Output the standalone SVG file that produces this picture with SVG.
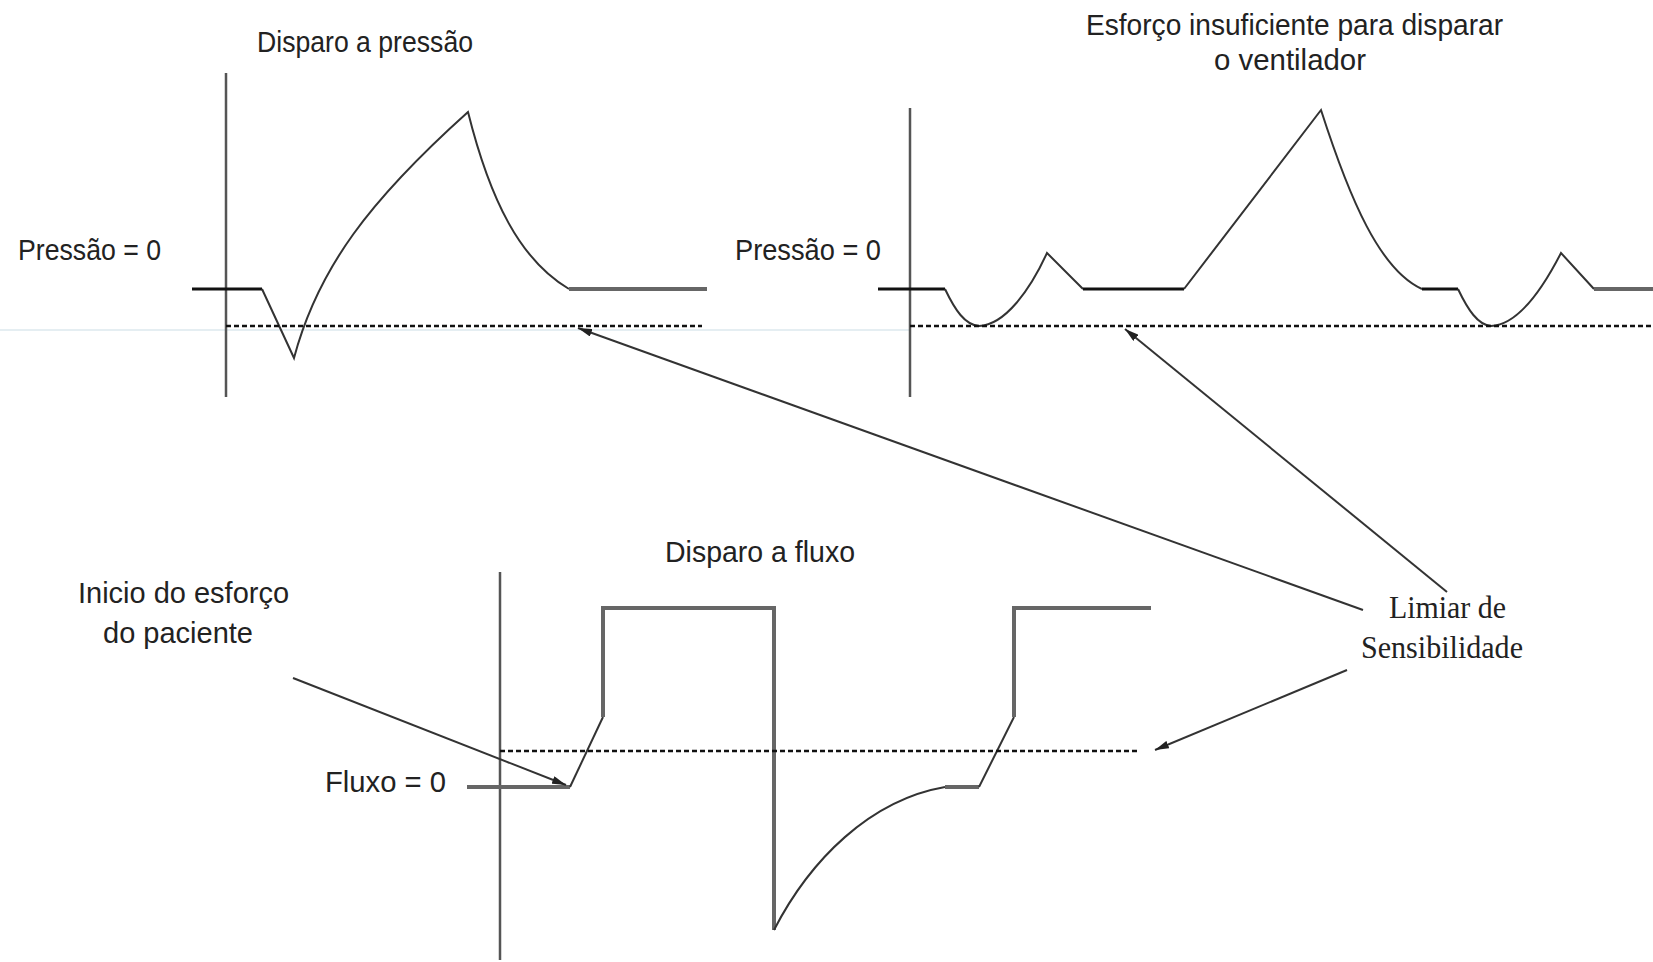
<svg xmlns="http://www.w3.org/2000/svg" width="1653" height="962" viewBox="0 0 1653 962">
<style>
.lbl{font-family:"Liberation Sans","DejaVu Sans",sans-serif;font-size:30px;fill:#222}
.ser{font-family:"Liberation Serif","DejaVu Serif",serif;font-size:31px;fill:#222}
.axis{stroke:#555;stroke-width:2.5;fill:none}
.wave{stroke:#333;stroke-width:2;fill:none;stroke-linejoin:miter}
.grey{stroke:#666;stroke-width:4;fill:none}
.blk{stroke:#111;stroke-width:3;fill:none}
.dash{stroke:#111;stroke-width:2.5;fill:none;stroke-dasharray:5 3}
.conn{stroke:#333;stroke-width:2;fill:none;marker-end:url(#ah)}
</style>
<defs>
<marker id="ah" viewBox="0 0 14 8" refX="14" refY="4" markerWidth="14" markerHeight="8" markerUnits="userSpaceOnUse" orient="auto">
<path d="M0,0 L14,4 L0,8 Z" fill="#222"/>
</marker>
</defs>
<rect width="1653" height="962" fill="#fff"/>
<line x1="0" y1="330" x2="910" y2="330" stroke="#dde9ee" stroke-width="1.5"/>

<g id="panel-pressure-trigger">
<text class="lbl" x="257" y="52" textLength="216" lengthAdjust="spacingAndGlyphs">Disparo a pressão</text>
<text class="lbl" x="18" y="260" textLength="143" lengthAdjust="spacingAndGlyphs">Pressão = 0</text>
<line class="axis" x1="226" y1="73" x2="226" y2="397"/>
<line class="blk" x1="192" y1="289" x2="262" y2="289"/>
<path class="wave" d="M262,289 L294,358 C318,268 370,200 468,112 C490,200 520,260 569,289"/>
<line class="grey" x1="569" y1="289" x2="707" y2="289"/>
<line class="dash" x1="226" y1="326" x2="702" y2="326"/>
</g>

<g id="panel-insufficient-effort">
<text class="lbl" x="1086" y="35" textLength="417" lengthAdjust="spacingAndGlyphs">Esforço insuficiente para disparar</text>
<text class="lbl" x="1214" y="70" textLength="152" lengthAdjust="spacingAndGlyphs">o ventilador</text>
<text class="lbl" x="735" y="260" textLength="146" lengthAdjust="spacingAndGlyphs">Pressão = 0</text>
<line class="axis" x1="910" y1="108" x2="910" y2="397"/>
<line class="blk" x1="878" y1="289" x2="945" y2="289"/>
<path class="wave" d="M945,289 C955,310 965,325 979,326 C1005,325 1030,290 1047,253 L1083,289"/>
<line class="blk" x1="1083" y1="289" x2="1184" y2="289"/>
<path class="wave" d="M1184,289 L1321,110 C1350,200 1380,270 1422,289"/>
<line class="blk" x1="1422" y1="289" x2="1458" y2="289"/>
<path class="wave" d="M1458,289 C1468,310 1478,325 1491,326 C1517,325 1542,290 1561,253 L1594,289"/>
<line class="grey" x1="1594" y1="289" x2="1653" y2="289"/>
<line class="dash" x1="910" y1="326" x2="1653" y2="326"/>
</g>

<g id="panel-flow-trigger">
<text class="lbl" x="665" y="562" textLength="190" lengthAdjust="spacingAndGlyphs">Disparo a fluxo</text>
<text class="lbl" x="325" y="792" textLength="121" lengthAdjust="spacingAndGlyphs">Fluxo = 0</text>
<line class="axis" x1="500" y1="572" x2="500" y2="960"/>
<line class="grey" x1="467" y1="787" x2="570" y2="787"/>
<path class="wave" d="M570,787 L603,717"/>
<path class="grey" d="M603,717 L603,608 L774,608 L774,930"/>
<path class="wave" d="M774,930 C810,860 870,800 945,787"/>
<line class="grey" x1="945" y1="787" x2="979" y2="787"/>
<path class="wave" d="M979,787 L1014,717"/>
<path class="grey" d="M1014,717 L1014,608 L1151,608"/>
<line class="dash" x1="500" y1="751" x2="1140" y2="751"/>
</g>

<g id="label-effort">
<text class="lbl" x="78" y="603" textLength="211" lengthAdjust="spacingAndGlyphs">Inicio do esforço</text>
<text class="lbl" x="103" y="643" textLength="150" lengthAdjust="spacingAndGlyphs">do paciente</text>
</g>

<g id="label-threshold">
<text class="ser" x="1389" y="618" textLength="117" lengthAdjust="spacingAndGlyphs">Limiar de</text>
<text class="ser" x="1361" y="658" textLength="162" lengthAdjust="spacingAndGlyphs">Sensibilidade</text>
</g>

<g id="connectors">
<line class="conn" x1="1363" y1="610" x2="578" y2="328"/>
<line class="conn" x1="1447" y1="592" x2="1125" y2="329"/>
<line class="conn" x1="1347" y1="670" x2="1155" y2="750"/>
<line class="conn" x1="293" y1="678" x2="566" y2="785"/>
</g>
</svg>
